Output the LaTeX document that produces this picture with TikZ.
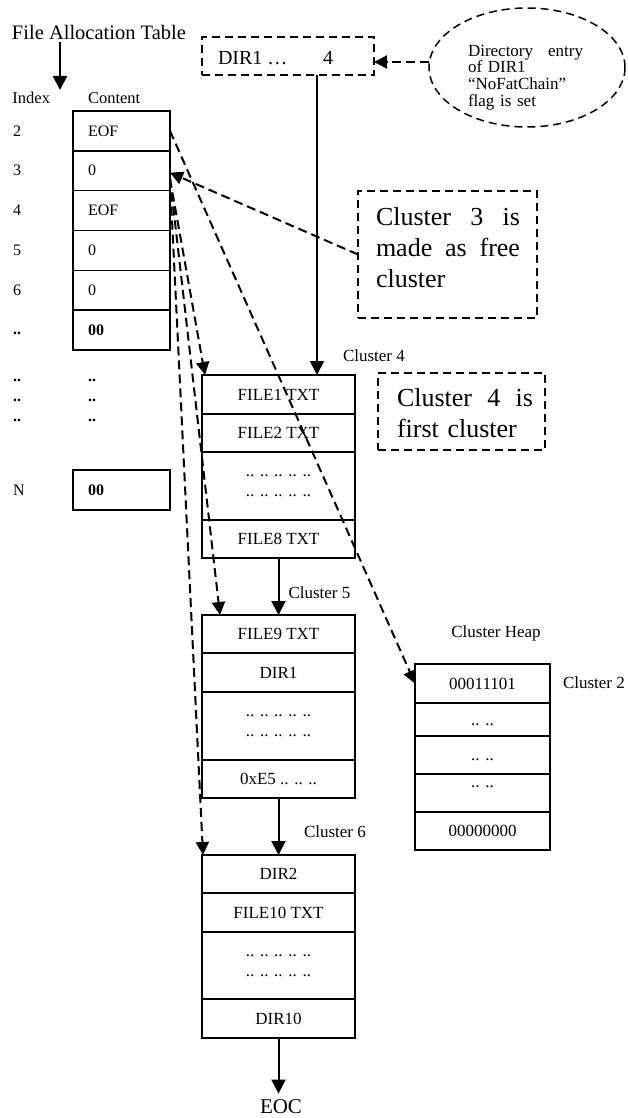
\documentclass[tikz,border=0pt]{standalone}
\usepackage{fontspec}
\setmainfont{Liberation Serif}
\usetikzlibrary{arrows.meta,shapes.geometric}
\newcommand\fsz[2]{\fontsize{#1}{#2}\selectfont}
\begin{document}
\begin{tikzpicture}[x=1pt,y=-1pt,
  every node/.style={inner sep=0pt, outer sep=0pt},
  box/.style={draw, line width=1.5pt, rectangle},
  fatrow/.style={box, minimum width=97pt, minimum height=39.8pt, text width=67pt, inner xsep=15pt, align=left, font=\fsz{16}{19}},
  crow/.style={box, minimum width=153pt, align=center, font=\fsz{17}{20}},
  hrow/.style={box, minimum width=135pt, align=center, font=\fsz{17}{20}},
  dbox/.style={draw, line width=1.5pt, dash pattern=on 8pt off 5pt},
  lbl/.style={font=\fsz{17}{20}},
  idx/.style={anchor=west, font=\fsz{16}{19}},
  solidarr/.style={draw, line width=2pt, -{Triangle[length=14pt,width=14pt]}},
  dasharr/.style={draw, line width=2pt, dash pattern=on 9pt off 5pt, -{Triangle[length=13pt,width=13pt]}}
]
\path[use as bounding box] (0,0) rectangle (628,1118);

% title and FAT
\node[anchor=base west, font=\fsz{20.5}{24}] (title) at (12,40) {File Allocation Table};
\coordinate (tarrs) at (60,42);
\coordinate (tarre) at (60,90);
\draw[solidarr] (tarrs) -- (tarre);
\node[anchor=west, font=\fsz{16.5}{20}] (idxhead) at (12.5,98) {Index};
\node[anchor=west, font=\fsz{16.5}{20}] (conthead) at (88,98) {Content};

\node[fatrow] (fat2) at (121.5,130.9) {EOF};
\node[fatrow] (fat3) at (121.5,170.7) {0};
\node[fatrow] (fat4) at (121.5,210.6) {EOF};
\node[fatrow] (fat5) at (121.5,250.4) {0};
\node[fatrow] (fat6) at (121.5,290.3) {0};
\node[fatrow] (fat7) at (121.5,330.1) {\textbf{00}};
\node[idx] (i2) at (13,130.9) {2};
\node[idx] (i3) at (13,170.7) {3};
\node[idx] (i4) at (13,210.6) {4};
\node[idx] (i5) at (13,250.4) {5};
\node[idx] (i6) at (13,290.3) {6};
\node[idx] (i7) at (13,333) {\textbf{..}};
\node[idx] (d1a) at (13,380) {\textbf{..}};
\node[idx] (d2a) at (13,400) {\textbf{..}};
\node[idx] (d3a) at (13,420) {\textbf{..}};
\node[idx] (d1b) at (88,380) {\textbf{..}};
\node[idx] (d2b) at (88,400) {\textbf{..}};
\node[idx] (d3b) at (88,420) {\textbf{..}};
\node[idx] (iN) at (13,490) {N};
\node[fatrow, minimum height=40pt] (fatN) at (121.5,490) {\textbf{00}};

% directory entry box and ellipse
\node[dbox, minimum width=172pt, minimum height=38pt] (dirbox) at (288,56) {};
\node[anchor=base west, font=\fsz{20}{24}] (dirname) at (218,65) {DIR1 …};
\node[anchor=base west, font=\fsz{20}{24}] (dirclus) at (323,65) {4};
\node[ellipse, dbox, minimum width=196pt, minimum height=119pt] (ell) at (527,67.5) {};
\node[font=\fsz{17}{16.8}, text width=115pt, align=left] (elltext) at (525.5,77.5)
  {\makebox[115pt][l]{Directory\hfill entry}\\of DIR1\\“NoFatChain”\\flag is set};
\draw[dasharr] ([yshift=5.5pt]ell.west) -- ([yshift=-6pt]dirbox.east);

% note boxes
\node[dbox, minimum width=179pt, minimum height=127pt] (cl3box) at (447.5,254.5) {};
\node[font=\fsz{26}{31}, text width=144pt, align=left] (cl3text) at (448,247.2)
  {\makebox[144pt][l]{Cluster\hfill 3\hfill is}\\\makebox[144pt][l]{made\hfill as\hfill free}\\cluster};
\node[dbox, minimum width=167pt, minimum height=77pt] (cl4box) at (461.5,411.5) {};
\node[font=\fsz{26}{31}, text width=136pt, align=left] (cl4text) at (465,413)
  {\makebox[136pt][l]{Cluster\hfill 4\hfill is}\\first cluster};

% cluster 4
\node[crow, minimum height=39pt] (c4r1) at (278.5,394.5) {FILE1 TXT};
\node[crow, minimum height=38pt] (c4r2) at (278.5,433) {FILE2 TXT};
\node[crow, minimum height=68pt] (c4r3) at (278.5,486) {.. .. .. .. ..\\.. .. .. .. ..};
\node[crow, minimum height=38pt] (c4r4) at (278.5,539) {FILE8 TXT};
\node[lbl, anchor=base west] (lab4) at (343,361.5) {Cluster 4};
% cluster 5
\node[crow, minimum height=38pt] (c5r1) at (278.5,634) {FILE9 TXT};
\node[crow, minimum height=39pt] (c5r2) at (278.5,672.5) {DIR1};
\node[crow, minimum height=68pt] (c5r3) at (278.5,726) {.. .. .. .. ..\\.. .. .. .. ..};
\node[crow, minimum height=38pt] (c5r4) at (278.5,779) {0xE5 .. .. ..};
\node[lbl, anchor=base west] (lab5) at (288.5,598) {Cluster 5};
% cluster 6
\node[crow, minimum height=38pt] (c6r1) at (278.5,874) {DIR2};
\node[crow, minimum height=39pt] (c6r2) at (278.5,912.5) {FILE10 TXT};
\node[crow, minimum height=67pt] (c6r3) at (278.5,965.5) {.. .. .. .. ..\\.. .. .. .. ..};
\node[crow, minimum height=39pt] (c6r4) at (278.5,1018.5) {DIR10};
\node[lbl, anchor=base west] (lab6) at (304,837) {Cluster 6};
\node[anchor=base, font=\fsz{21}{24}] (eoc) at (281,1113.5) {EOC};

% cluster heap
\node[lbl, anchor=base] (heaplab) at (496,637) {Cluster Heap};
\node[hrow, minimum height=39pt] (heap1) at (482.5,683.5) {00011101};
\node[hrow, minimum height=33pt] (heap2) at (482.5,719.5) {\vphantom{0}.. ..};
\node[hrow, minimum height=38pt] (heap3) at (482.5,755) {\vphantom{0}.. ..};
\node[hrow, minimum height=38pt] (heap4) at (482.5,793) {};
\node[lbl] (heap4dots) at (482.5,787) {.. ..};
\node[hrow, minimum height=38pt] (heap5) at (482.5,831) {00000000};
\node[lbl, anchor=base west] (lab2) at (563,688) {Cluster 2};

% solid chain arrows
\draw[solidarr] ([xshift=29pt]dirbox.south) -- ([xshift=29pt]dirbox.south |- c4r1.north);
\draw[solidarr] (c4r4.south) -- (c5r1.north);
\draw[solidarr] (c5r4.south) -- (c6r1.north);
\draw[solidarr, shorten >=6pt] (c6r4.south) -- (c6r4.south |- eoc.north);

% dashed arrows
\draw[dasharr] (fat2.east) -- (heap1.west);
\draw[dasharr] (cl3box.west) -- ([yshift=-2pt]fat3.east);
\draw[dasharr] ([yshift=-8pt]fat3.east) -- ([xshift=3pt]c4r1.north west);
\draw[dasharr] ([yshift=-8pt]fat3.east) -- ([xshift=18pt]c5r1.north west);
\draw[dasharr] ([yshift=-8pt]fat3.east) -- ([xshift=1pt]c6r1.north west);
\end{tikzpicture}
\end{document}
